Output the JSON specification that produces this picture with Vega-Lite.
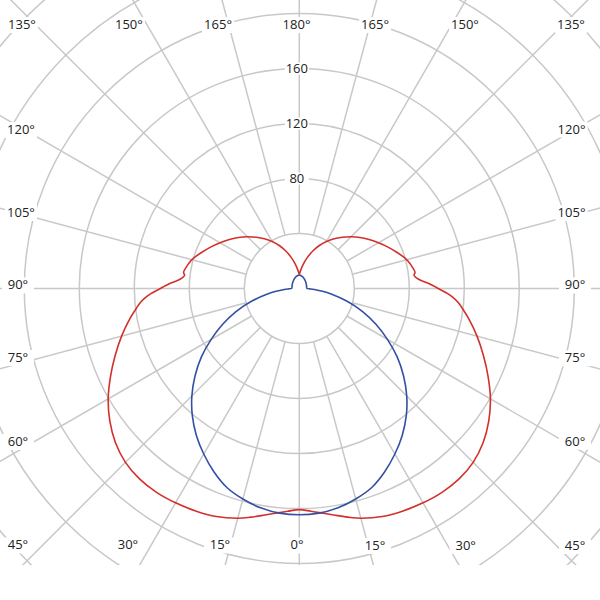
{
  "$schema": "https://vega.github.io/schema/vega-lite/v6.json",
  "width": 600,
  "height": 565,
  "autosize": {"type": "none"},
  "padding": 0,
  "background": "white",
  "config": {"view": {"stroke": null}},
  "datasets": {
    "rings": [{"r": 40}, {"r": 80}, {"r": 120}, {"r": 160}, {"r": 200}, {"r": 240}, {"r": 280}],
    "spokes": [
      {"a": -165}, {"a": -150}, {"a": -135}, {"a": -120}, {"a": -105}, {"a": -90}, {"a": -75}, {"a": -60}, {"a": -45}, {"a": -30}, {"a": -15},
      {"a": 0}, {"a": 15}, {"a": 30}, {"a": 45}, {"a": 60}, {"a": 75}, {"a": 90}, {"a": 105}, {"a": 120}, {"a": 135}, {"a": 150}, {"a": 165}, {"a": 180}
    ],
    "angleLabels": [
      {"t": "180°", "x": -2, "y": 191.6},
      {"t": "165°", "x": -59.1, "y": 191.6},
      {"t": "150°", "x": -123.9, "y": 191.6},
      {"t": "135°", "x": -201.7, "y": 191.6},
      {"t": "120°", "x": -202.4, "y": 115.3},
      {"t": "105°", "x": -202.4, "y": 54.9},
      {"t": "90°", "x": -204.6, "y": 2.2},
      {"t": "75°", "x": -204.6, "y": -50.5},
      {"t": "60°", "x": -204.6, "y": -111.6},
      {"t": "45°", "x": -204.6, "y": -186.9},
      {"t": "30°", "x": -124.6, "y": -186.9},
      {"t": "15°", "x": -57.7, "y": -186.9},
      {"t": "0°", "x": -1.7, "y": -186.9},
      {"t": "15°", "x": 55.1, "y": -187.3},
      {"t": "30°", "x": 121, "y": -187.3},
      {"t": "45°", "x": 200.5, "y": -187.3},
      {"t": "60°", "x": 200.5, "y": -111.4},
      {"t": "75°", "x": 200.5, "y": -50.8},
      {"t": "90°", "x": 200.5, "y": 2.2},
      {"t": "105°", "x": 198, "y": 54.7},
      {"t": "120°", "x": 198, "y": 115.6},
      {"t": "135°", "x": 197.6, "y": 191.6},
      {"t": "150°", "x": 120.5, "y": 191.6},
      {"t": "165°", "x": 55.1, "y": 191.6}
    ],
    "valueLabels": [{"t": "80", "y": 80}, {"t": "120", "y": 120}, {"t": "160", "y": 160}],
    "curves": [
      {"s": "C90", "a": -180, "r": 10.2}, {"s": "C90", "a": -175, "r": 13.8}, {"s": "C90", "a": -170, "r": 18.5}, {"s": "C90", "a": -165, "r": 23.8},
      {"s": "C90", "a": -160, "r": 29.2}, {"s": "C90", "a": -155, "r": 34.5}, {"s": "C90", "a": -150, "r": 39.5}, {"s": "C90", "a": -145, "r": 44.2},
      {"s": "C90", "a": -140, "r": 48.6}, {"s": "C90", "a": -135, "r": 53.2}, {"s": "C90", "a": -130, "r": 57.7}, {"s": "C90", "a": -125, "r": 62},
      {"s": "C90", "a": -120, "r": 66.5}, {"s": "C90", "a": -115, "r": 71.2}, {"s": "C90", "a": -110, "r": 76}, {"s": "C90", "a": -106, "r": 80},
      {"s": "C90", "a": -103, "r": 82.3}, {"s": "C90", "a": -101, "r": 83.5}, {"s": "C90", "a": -98, "r": 85}, {"s": "C90", "a": -96.5, "r": 84},
      {"s": "C90", "a": -95, "r": 85.8}, {"s": "C90", "a": -94, "r": 88}, {"s": "C90", "a": -93, "r": 91.5}, {"s": "C90", "a": -92, "r": 95},
      {"s": "C90", "a": -91, "r": 98}, {"s": "C90", "a": -90, "r": 101}, {"s": "C90", "a": -89, "r": 104.5}, {"s": "C90", "a": -88, "r": 108},
      {"s": "C90", "a": -87, "r": 111}, {"s": "C90", "a": -85, "r": 116}, {"s": "C90", "a": -83, "r": 119.5}, {"s": "C90", "a": -80, "r": 125},
      {"s": "C90", "a": -75, "r": 133.8}, {"s": "C90", "a": -70, "r": 142.5}, {"s": "C90", "a": -65, "r": 151.5}, {"s": "C90", "a": -60, "r": 160.5},
      {"s": "C90", "a": -55, "r": 168.2}, {"s": "C90", "a": -50, "r": 174.5}, {"s": "C90", "a": -45, "r": 178.8}, {"s": "C90", "a": -40, "r": 180.8},
      {"s": "C90", "a": -35, "r": 181}, {"s": "C90", "a": -30, "r": 180}, {"s": "C90", "a": -25, "r": 178.5}, {"s": "C90", "a": -20, "r": 176.5},
      {"s": "C90", "a": -15, "r": 173}, {"s": "C90", "a": -12, "r": 170}, {"s": "C90", "a": -9, "r": 167}, {"s": "C90", "a": -6, "r": 164.3},
      {"s": "C90", "a": -3, "r": 162.2}, {"s": "C90", "a": 0, "r": 160.8},
      {"s": "C90", "a": 3, "r": 162.2}, {"s": "C90", "a": 6, "r": 164.3}, {"s": "C90", "a": 9, "r": 167}, {"s": "C90", "a": 12, "r": 170},
      {"s": "C90", "a": 15, "r": 173}, {"s": "C90", "a": 20, "r": 176.5}, {"s": "C90", "a": 25, "r": 178.5}, {"s": "C90", "a": 30, "r": 180},
      {"s": "C90", "a": 35, "r": 181}, {"s": "C90", "a": 40, "r": 180.8}, {"s": "C90", "a": 45, "r": 178.8}, {"s": "C90", "a": 50, "r": 174.5},
      {"s": "C90", "a": 55, "r": 168.2}, {"s": "C90", "a": 60, "r": 160.5}, {"s": "C90", "a": 65, "r": 151.5}, {"s": "C90", "a": 70, "r": 142.5},
      {"s": "C90", "a": 75, "r": 133.8}, {"s": "C90", "a": 80, "r": 125}, {"s": "C90", "a": 83, "r": 119.5}, {"s": "C90", "a": 85, "r": 116},
      {"s": "C90", "a": 87, "r": 111}, {"s": "C90", "a": 88, "r": 108}, {"s": "C90", "a": 89, "r": 104.5}, {"s": "C90", "a": 90, "r": 101},
      {"s": "C90", "a": 91, "r": 98}, {"s": "C90", "a": 92, "r": 95}, {"s": "C90", "a": 93, "r": 91.5}, {"s": "C90", "a": 94, "r": 88},
      {"s": "C90", "a": 95, "r": 85.8}, {"s": "C90", "a": 96.5, "r": 84}, {"s": "C90", "a": 98, "r": 85}, {"s": "C90", "a": 101, "r": 83.5},
      {"s": "C90", "a": 103, "r": 82.3}, {"s": "C90", "a": 106, "r": 80}, {"s": "C90", "a": 110, "r": 76}, {"s": "C90", "a": 115, "r": 71.2},
      {"s": "C90", "a": 120, "r": 66.5}, {"s": "C90", "a": 125, "r": 62}, {"s": "C90", "a": 130, "r": 57.7}, {"s": "C90", "a": 135, "r": 53.2},
      {"s": "C90", "a": 140, "r": 48.6}, {"s": "C90", "a": 145, "r": 44.2}, {"s": "C90", "a": 150, "r": 39.5}, {"s": "C90", "a": 155, "r": 34.5},
      {"s": "C90", "a": 160, "r": 29.2}, {"s": "C90", "a": 165, "r": 23.8}, {"s": "C90", "a": 170, "r": 18.5}, {"s": "C90", "a": 175, "r": 13.8},
      {"s": "C90", "a": 180, "r": 10.2},
      {"s": "C0", "a": -180, "r": 9.8}, {"s": "C0", "a": -165, "r": 9}, {"s": "C0", "a": -150, "r": 7.7}, {"s": "C0", "a": -135, "r": 6.6},
      {"s": "C0", "a": -120, "r": 5.9}, {"s": "C0", "a": -110, "r": 5.6}, {"s": "C0", "a": -100, "r": 5.4}, {"s": "C0", "a": -90, "r": 5.6},
      {"s": "C0", "a": -88, "r": 7.8}, {"s": "C0", "a": -86, "r": 11}, {"s": "C0", "a": -83, "r": 17}, {"s": "C0", "a": -80, "r": 23.5},
      {"s": "C0", "a": -75, "r": 36}, {"s": "C0", "a": -70, "r": 49}, {"s": "C0", "a": -65, "r": 61.5}, {"s": "C0", "a": -60, "r": 74},
      {"s": "C0", "a": -55, "r": 87}, {"s": "C0", "a": -50, "r": 99}, {"s": "C0", "a": -45, "r": 110.5}, {"s": "C0", "a": -40, "r": 121},
      {"s": "C0", "a": -35, "r": 130.5}, {"s": "C0", "a": -30, "r": 139}, {"s": "C0", "a": -25, "r": 147}, {"s": "C0", "a": -20, "r": 154},
      {"s": "C0", "a": -15, "r": 158.5}, {"s": "C0", "a": -10, "r": 162}, {"s": "C0", "a": -5, "r": 164}, {"s": "C0", "a": 0, "r": 164.5},
      {"s": "C0", "a": 5, "r": 164}, {"s": "C0", "a": 10, "r": 162}, {"s": "C0", "a": 15, "r": 158.5}, {"s": "C0", "a": 20, "r": 154},
      {"s": "C0", "a": 25, "r": 147}, {"s": "C0", "a": 30, "r": 139}, {"s": "C0", "a": 35, "r": 130.5}, {"s": "C0", "a": 40, "r": 121},
      {"s": "C0", "a": 45, "r": 110.5}, {"s": "C0", "a": 50, "r": 99}, {"s": "C0", "a": 55, "r": 87}, {"s": "C0", "a": 60, "r": 74},
      {"s": "C0", "a": 65, "r": 61.5}, {"s": "C0", "a": 70, "r": 49}, {"s": "C0", "a": 75, "r": 36}, {"s": "C0", "a": 80, "r": 23.5},
      {"s": "C0", "a": 83, "r": 17}, {"s": "C0", "a": 86, "r": 11}, {"s": "C0", "a": 88, "r": 7.8}, {"s": "C0", "a": 90, "r": 5.6},
      {"s": "C0", "a": 100, "r": 5.4}, {"s": "C0", "a": 110, "r": 5.6}, {"s": "C0", "a": 120, "r": 5.9}, {"s": "C0", "a": 135, "r": 6.6},
      {"s": "C0", "a": 150, "r": 7.7}, {"s": "C0", "a": 165, "r": 9}, {"s": "C0", "a": 180, "r": 9.8}
    ]
  },
  "layer": [
    {
      "data": {"name": "rings"},
      "mark": {"type": "point", "shape": "circle", "filled": false, "color": "#c8c8c8", "strokeWidth": 1.5, "opacity": 1, "clip": true},
      "encoding": {
        "x": {"datum": 0, "type": "quantitative", "scale": {"domain": [-217.67, 218.69], "nice": false, "zero": false}, "axis": null},
        "y": {"datum": 0, "type": "quantitative", "scale": {"domain": [-201.09, 209.82], "nice": false, "zero": false}, "axis": null},
        "size": {"field": "r", "type": "quantitative", "scale": {"type": "pow", "exponent": 2, "domain": [0, 280], "range": [0, 592900]}, "legend": null}
      }
    },
    {
      "data": {"name": "spokes"},
      "transform": [
        {"calculate": "40*sin(datum.a*PI/180)", "as": "x"},
        {"calculate": "-40*cos(datum.a*PI/180)", "as": "y"},
        {"calculate": "420*sin(datum.a*PI/180)", "as": "xe"},
        {"calculate": "-420*cos(datum.a*PI/180)", "as": "ye"}
      ],
      "mark": {"type": "rule", "color": "#c8c8c8", "strokeWidth": 1.5, "clip": true},
      "encoding": {
        "x": {"field": "x", "type": "quantitative", "scale": {"domain": [-217.67, 218.69], "nice": false, "zero": false}, "axis": null},
        "y": {"field": "y", "type": "quantitative", "scale": {"domain": [-201.09, 209.82], "nice": false, "zero": false}, "axis": null},
        "x2": {"field": "xe"},
        "y2": {"field": "ye"}
      }
    },
    {
      "data": {"name": "angleLabels"},
      "mark": {"type": "point", "shape": "M-1,-0.5H1V0.5H-1Z", "filled": true, "color": "white", "opacity": 1, "size": 1024, "strokeWidth": 0},
      "encoding": {
        "x": {"field": "x", "type": "quantitative", "scale": {"domain": [-217.67, 218.69], "nice": false, "zero": false}, "axis": null},
        "y": {"field": "y", "type": "quantitative", "scale": {"domain": [-201.09, 209.82], "nice": false, "zero": false}, "axis": null}
      }
    },
    {
      "data": {"name": "valueLabels"},
      "mark": {"type": "point", "shape": "M-1,-0.5H1V0.5H-1Z", "filled": true, "color": "white", "opacity": 1, "size": 576, "strokeWidth": 0},
      "encoding": {
        "x": {"datum": -1.8, "type": "quantitative", "scale": {"domain": [-217.67, 218.69], "nice": false, "zero": false}, "axis": null},
        "y": {"field": "y", "type": "quantitative", "scale": {"domain": [-201.09, 209.82], "nice": false, "zero": false}, "axis": null}
      }
    },
    {
      "data": {"name": "curves"},
      "transform": [
        {"calculate": "datum.r*sin(datum.a*PI/180)", "as": "x"},
        {"calculate": "-datum.r*cos(datum.a*PI/180)", "as": "y"}
      ],
      "mark": {"type": "line", "strokeWidth": 1.6, "interpolate": "catmull-rom", "clip": true},
      "encoding": {
        "x": {"field": "x", "type": "quantitative", "scale": {"domain": [-217.67, 218.69], "nice": false, "zero": false}, "axis": null},
        "y": {"field": "y", "type": "quantitative", "scale": {"domain": [-201.09, 209.82], "nice": false, "zero": false}, "axis": null},
        "order": {"field": "a", "type": "quantitative"},
        "color": {"field": "s", "type": "nominal", "scale": {"domain": ["C0", "C90"], "range": ["#3450a4", "#d3302c"]}, "legend": null}
      }
    },
    {
      "data": {"name": "angleLabels"},
      "mark": {"type": "text", "font": "Open Sans", "fontSize": 13, "color": "#222222", "align": "center", "baseline": "middle"},
      "encoding": {
        "x": {"field": "x", "type": "quantitative", "scale": {"domain": [-217.67, 218.69], "nice": false, "zero": false}, "axis": null},
        "y": {"field": "y", "type": "quantitative", "scale": {"domain": [-201.09, 209.82], "nice": false, "zero": false}, "axis": null},
        "text": {"field": "t"}
      }
    },
    {
      "data": {"name": "valueLabels"},
      "mark": {"type": "text", "font": "Open Sans", "fontSize": 13, "color": "#222222", "align": "center", "baseline": "middle"},
      "encoding": {
        "x": {"datum": -1.8, "type": "quantitative", "scale": {"domain": [-217.67, 218.69], "nice": false, "zero": false}, "axis": null},
        "y": {"field": "y", "type": "quantitative", "scale": {"domain": [-201.09, 209.82], "nice": false, "zero": false}, "axis": null},
        "text": {"field": "t"}
      }
    }
  ]
}
